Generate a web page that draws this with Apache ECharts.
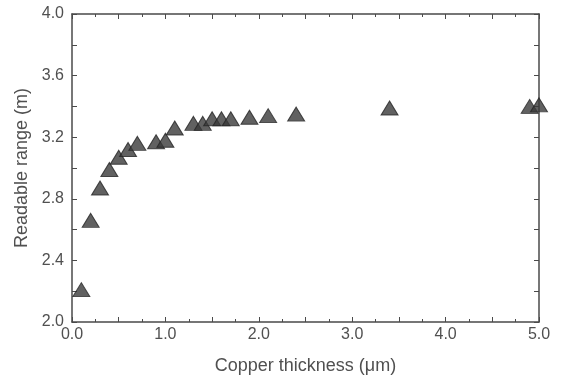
<!DOCTYPE html>
<html>
<head>
<meta charset="utf-8">
<script src="https://cdn.jsdelivr.net/npm/echarts@6/dist/echarts.min.js"></script>
<style>
  html, body { margin: 0; padding: 0; background: #fff; }
  #chart { width: 561px; height: 377px; }
</style>
</head>
<body>
<div id="chart"></div>
<script>
const thickness = [0.1, 0.2, 0.3, 0.4, 0.5, 0.6, 0.7, 0.9, 1.0, 1.1, 1.3, 1.4, 1.5, 1.6, 1.7, 1.9, 2.1, 2.4, 3.4, 4.9, 5.0]
const range = [2.21, 2.66, 2.87, 2.99, 3.07, 3.12, 3.16, 3.17, 3.18, 3.26, 3.29, 3.29, 3.32, 3.32, 3.32, 3.33, 3.34, 3.35, 3.39, 3.40, 3.41]

const axisColor = '#4a4a4a'
const textColor = '#505050'
const font = 'Liberation Sans'

const chart = echarts.init(document.getElementById('chart'))

const baseAxis = {
  type: 'value',
  axisLine: { show: true, onZero: false, lineStyle: { color: axisColor, width: 1.5 } },
  axisTick: { show: true, inside: true, length: 5, lineStyle: { color: axisColor } },
  splitLine: { show: false }
}

chart.setOption({
  animation: false,
  grid: { left: 72, right: 22, top: 14, bottom: 55, outerBoundsMode: 'none' },
  xAxis: [
    Object.assign({}, baseAxis, {
      min: 0, max: 5, interval: 0.5,
      minorTick: { show: true, splitNumber: 2, length: 3, lineStyle: { color: axisColor } },
      axisLabel: {
        color: textColor, fontFamily: font, fontSize: 16, margin: 5,
        formatter: v => Math.round(v * 10) % 10 === 0 ? v.toFixed(1) : ''
      },
      name: 'Copper thickness (\u03bcm)',
      nameLocation: 'middle',
      nameGap: 35,
      nameTextStyle: { color: textColor, fontFamily: font, fontSize: 18 }
    }),
    Object.assign({}, baseAxis, {
      position: 'top', min: 0, max: 5, interval: 0.5,
      minorTick: { show: true, splitNumber: 2, length: 3, lineStyle: { color: axisColor } },
      axisLabel: { show: false }
    })
  ],
  yAxis: [
    Object.assign({}, baseAxis, {
      min: 2.0, max: 4.0, interval: 0.2,
      axisLabel: {
        color: textColor, fontFamily: font, fontSize: 16, margin: 8,
        formatter: v => Math.round(v * 10) % 4 === 0 ? v.toFixed(1) : ''
      },
      name: 'Readable range (m)',
      nameLocation: 'middle',
      nameGap: 41,
      nameTextStyle: { color: textColor, fontFamily: font, fontSize: 18 }
    }),
    Object.assign({}, baseAxis, {
      position: 'right', min: 2.0, max: 4.0, interval: 0.2,
      axisLabel: { show: false }
    })
  ],
  series: [{
    type: 'scatter',
    symbol: 'triangle',
    symbolSize: [17, 14],
    itemStyle: { color: '#3a3a3a', borderColor: '#262626', borderWidth: 1 },
    data: thickness.map((t, i) => [t, range[i]])
  }]
})
</script>
</body>
</html>
